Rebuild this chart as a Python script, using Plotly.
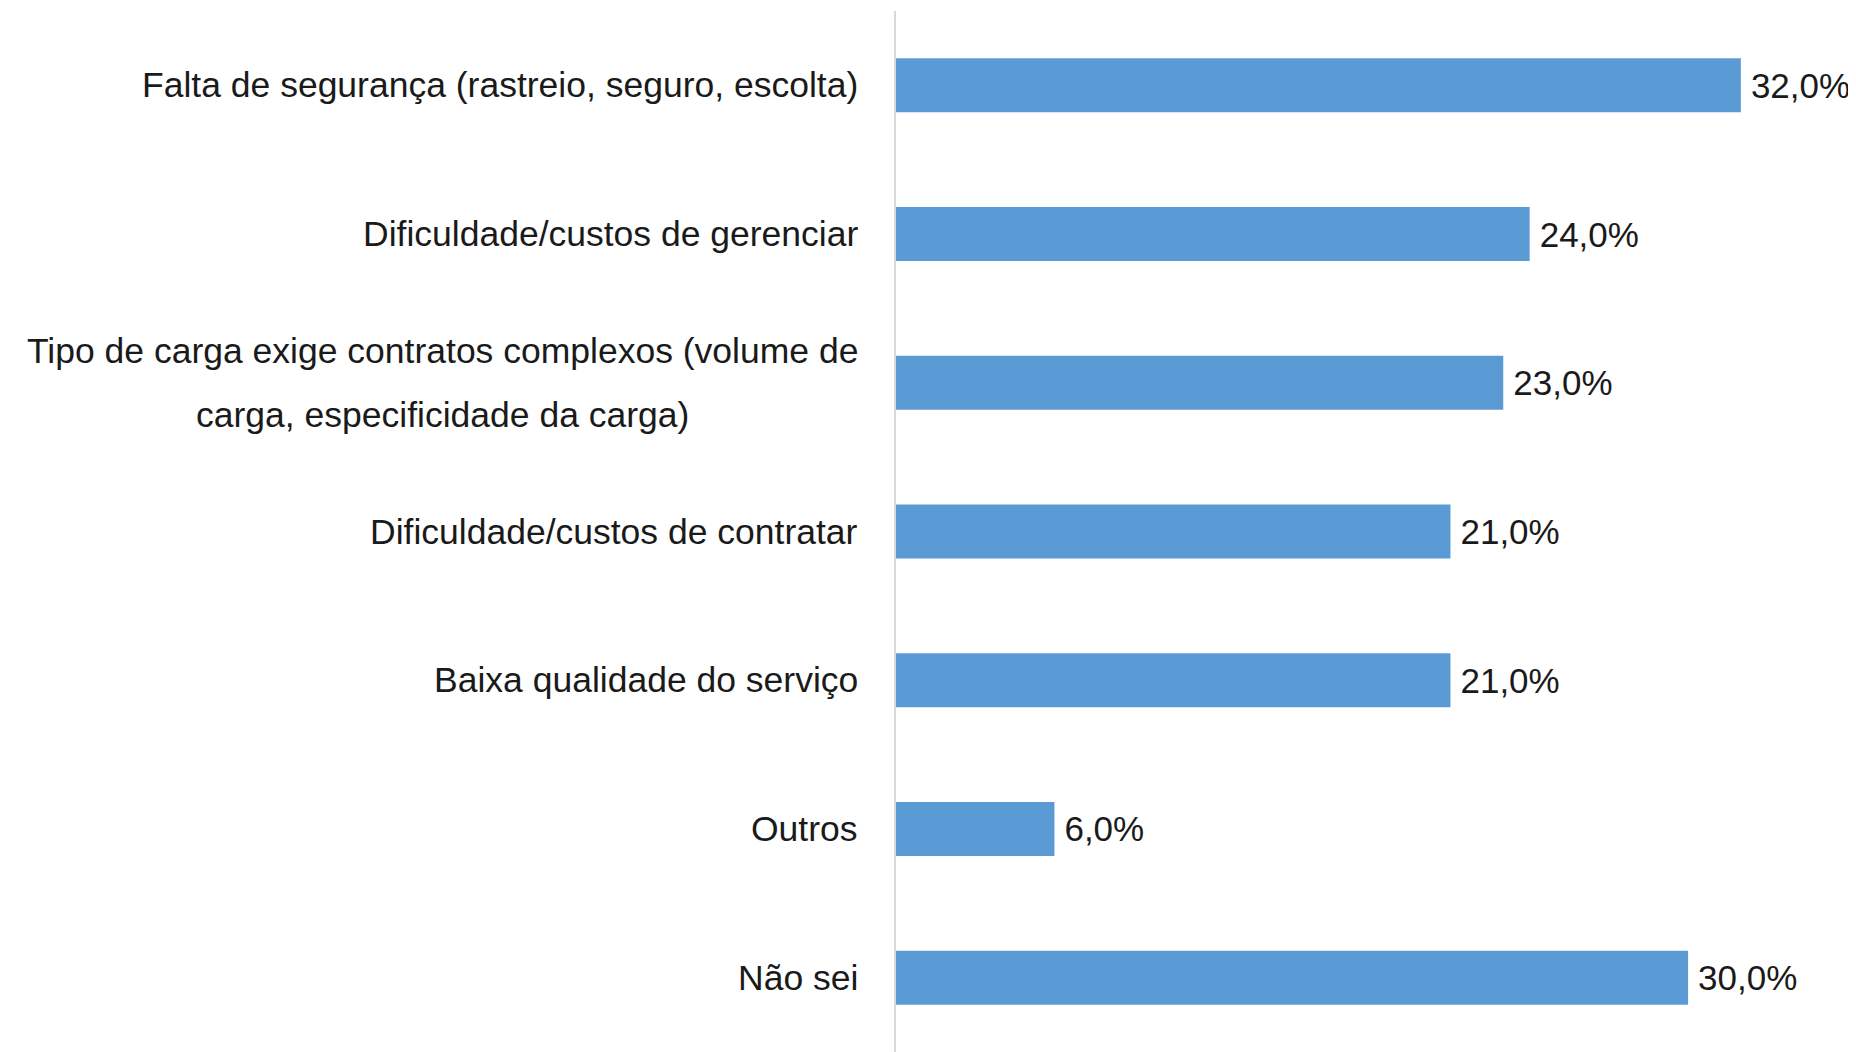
import plotly.graph_objects as go

categories = [
    "Falta de segurança (rastreio, seguro, escolta)",
    "Dificuldade/custos de gerenciar",
    "Tipo de carga exige contratos complexos (volume de<br>carga, especificidade da carga)",
    "Dificuldade/custos de contratar",
    "Baixa qualidade do serviço",
    "Outros",
    "Não sei",
]
values = [32.0, 24.0, 23.0, 21.0, 21.0, 6.0, 30.0]
value_labels = ["32,0%", "24,0%", "23,0%", "21,0%", "21,0%", "6,0%", "30,0%"]

FONT = "Liberation Sans Narrow, Liberation Sans, Arial, sans-serif"
TEXT_COLOR = "#1a1a1a"
BAR_COLOR = "#5B9BD5"
LABEL_SIZE = 35.5
VALUE_SIZE = 35
LINE_GAP = 64

fig = go.Figure()
fig.add_trace(go.Bar(
    x=values,
    y=categories,
    orientation="h",
    marker=dict(color=BAR_COLOR, line=dict(width=0)),
    text=value_labels,
    texttemplate="\u2009%{text}",
    textposition="outside",
    textfont=dict(family=FONT, size=VALUE_SIZE, color=TEXT_COLOR),
    cliponaxis=False,
    hoverinfo="skip",
))

for cat in categories:
    fig.add_annotation(
        xref="paper", yref="y", x=0, y=cat,
        xanchor="right", yanchor="middle", align="center",
        xshift=-36,
        text=f"<span style='font-size:{LABEL_SIZE}px'>{cat}</span>",
        showarrow=False,
        font=dict(family=FONT, size=LINE_GAP / 1.3, color=TEXT_COLOR),
    )

# page body adds an 8px offset, so the figure is sized to fit the window
fig.update_layout(
    width=1848, height=1044,
    margin=dict(l=888, r=0, t=3, b=0, pad=0, autoexpand=False),
    paper_bgcolor="white", plot_bgcolor="white",
    bargap=0.637,
    showlegend=False,
    xaxis=dict(range=[0, 36.36], visible=False, showgrid=False, zeroline=False),
    yaxis=dict(
        autorange="reversed", showticklabels=False, ticks="",
        showgrid=False, zeroline=False,
        showline=True, linecolor="#D9D9D9", linewidth=2,
    ),
)

fig.write_html("out.html")
